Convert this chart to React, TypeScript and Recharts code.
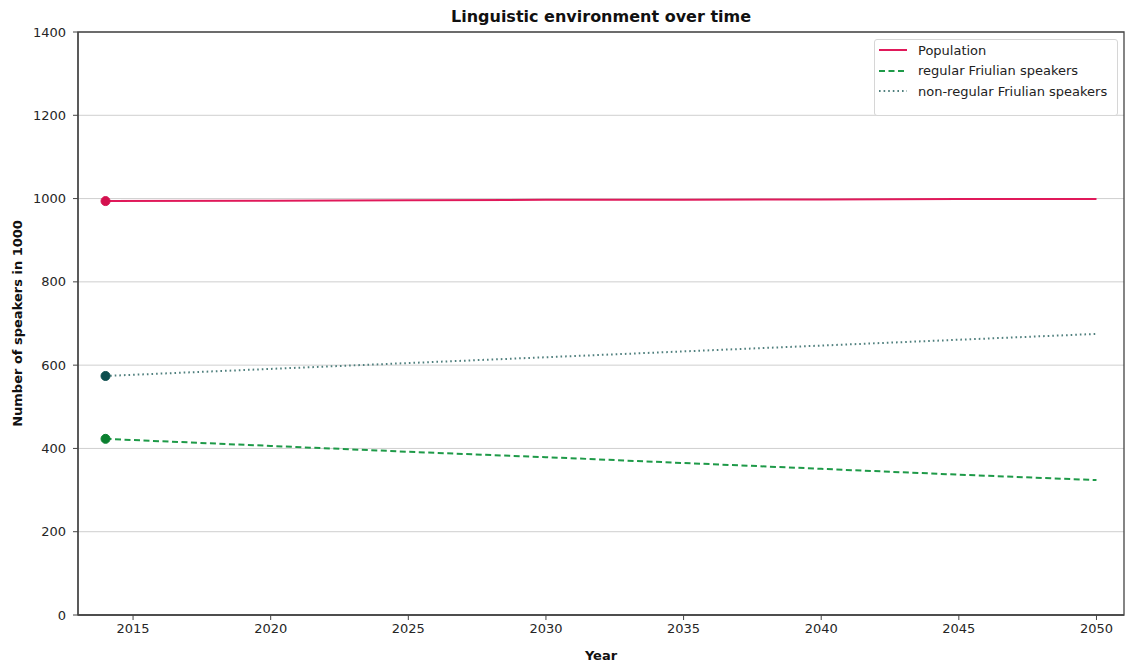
import React from 'react';
import { ComposedChart, Line, XAxis, YAxis, CartesianGrid, ReferenceArea } from 'recharts';

const years = [2014, 2020, 2025, 2030, 2035, 2040, 2045, 2050];
const population = [994, 995, 996, 997, 997, 998, 999, 999];
const regular = [423, 406, 392, 379, 365, 351, 337, 324];
const nonRegular = [574, 591, 605, 619, 633, 647, 661, 675];
const xTicks = [2015, 2020, 2025, 2030, 2035, 2040, 2045, 2050];
const yTicks = [0, 200, 400, 600, 800, 1000, 1200, 1400];

const data = years.map((y, i) => ({
  year: y,
  population: population[i],
  regular: regular[i],
  nonRegular: nonRegular[i],
}));

const FONT = '"DejaVu Sans", sans-serif';
const AXIS = '#444';

const firstDot = (color: string) => (props: any) => {
  const { cx, cy, index } = props;
  if (index !== 0) return <g key={`d${index}`} />;
  return <circle key={`d${index}`} cx={cx} cy={cy} r={4.5} fill={color} stroke={color} />;
};

const legendItems = [
  { label: 'Population', color: '#e0195a', dash: undefined as string | undefined },
  { label: 'regular Friulian speakers', color: '#1e9a48', dash: '6 3.5' },
  { label: 'non-regular Friulian speakers', color: '#4f7f7d', dash: '1.6 3' },
];

export default function App() {
  return (
    <div style={{ position: 'relative', width: 1137, height: 668, margin: -8, background: '#fff', fontFamily: FONT }}>
      <div
        style={{
          position: 'absolute',
          left: 0,
          width: 1202,
          top: 7,
          textAlign: 'center',
          fontWeight: 'bold',
          fontSize: 16,
          color: '#111',
        }}
      >
        Linguistic environment over time
      </div>
      <ComposedChart
        width={1137}
        height={668}
        data={data}
        margin={{ top: 32, right: 13, bottom: 0, left: 0 }}
        style={{ fontFamily: FONT }}
      >
        <CartesianGrid vertical={false} stroke="#cfcfcf" strokeWidth={1} />
        <XAxis
          dataKey="year"
          type="number"
          domain={[2013, 2051]}
          ticks={xTicks}
          height={53}
          tickSize={5}
          tickMargin={4}
          tick={{ fill: '#262626', fontSize: 13, fontFamily: FONT }}
          stroke={AXIS}
          axisLine={{ stroke: AXIS, strokeWidth: 1.3 }}
          label={{ value: 'Year', position: 'insideBottom', offset: 8, fill: '#111', fontWeight: 'bold', fontSize: 13, fontFamily: FONT }}
        />
        <YAxis
          domain={[0, 1400]}
          ticks={yTicks}
          width={78}
          tickSize={5}
          tickMargin={7}
          tick={{ fill: '#262626', fontSize: 13, fontFamily: FONT }}
          stroke={AXIS}
          axisLine={{ stroke: AXIS, strokeWidth: 1.3 }}
          label={{
            value: 'Number of speakers in 1000',
            angle: -90,
            position: 'insideLeft',
            offset: 17,
            style: { textAnchor: 'middle' },
            fill: '#111',
            fontWeight: 'bold',
            fontSize: 13,
            fontFamily: FONT,
          }}
        />
        <ReferenceArea
          x1={2013}
          x2={2051}
          y1={0}
          y2={1400}
          fill="none"
          fillOpacity={0}
          stroke={AXIS}
          strokeWidth={1.3}
          ifOverflow="visible"
        />
        <Line
          dataKey="population"
          stroke="#e0195a"
          strokeWidth={2}
          dot={firstDot('#d4104e')}
          activeDot={false}
          isAnimationActive={false}
        />
        <Line
          dataKey="regular"
          stroke="#1e9a48"
          strokeWidth={2}
          strokeDasharray="6 3.5"
          dot={firstDot('#0b8030')}
          activeDot={false}
          isAnimationActive={false}
        />
        <Line
          dataKey="nonRegular"
          stroke="#4f7f7d"
          strokeWidth={2}
          strokeDasharray="1.6 3"
          dot={firstDot('#0d4e4e')}
          activeDot={false}
          isAnimationActive={false}
        />
      </ComposedChart>
      <div
        style={{
          position: 'absolute',
          left: 874,
          top: 39,
          width: 244,
          height: 77,
          border: '1px solid #d6d6d6',
          borderRadius: 3,
          background: 'rgba(255,255,255,0.85)',
          boxSizing: 'border-box',
          padding: '0 0 0 3px',
        }}
      >
        {legendItems.map((it) => (
          <div key={it.label} style={{ display: 'flex', alignItems: 'center', height: 20.5, fontSize: 13, color: '#222' }}>
            <svg width={30} height={10} style={{ marginRight: 10 }}>
              <line x1={1} y1={5} x2={29} y2={5} stroke={it.color} strokeWidth={2} strokeDasharray={it.dash} />
            </svg>
            <span>{it.label}</span>
          </div>
        ))}
      </div>
    </div>
  );
}
